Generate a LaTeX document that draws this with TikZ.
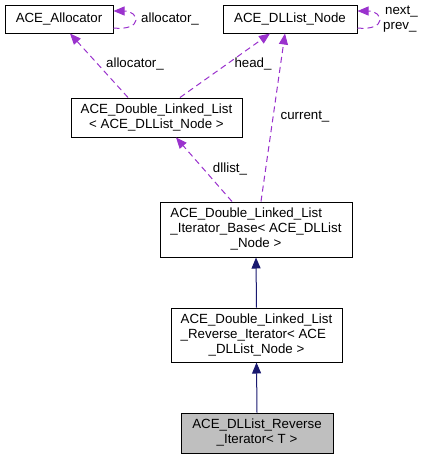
\documentclass[tikz,border=0pt]{standalone}
\usepackage{fontspec}
\setmainfont{Liberation Sans}
\usetikzlibrary{arrows.meta}
\definecolor{edgepurple}{HTML}{9A32CD}
\definecolor{edgenavy}{HTML}{191970}
\definecolor{boxgray}{HTML}{BFBFBF}
\newcommand{\mlines}[2]{\begin{tabular}{@{}l@{}}#1\\\multicolumn{1}{@{}c@{}}{#2}\end{tabular}}
\newcommand{\mlinesiii}[3]{\begin{tabular}{@{}l@{}}#1\\#2\\\multicolumn{1}{@{}c@{}}{#3}\end{tabular}}
\tikzset{
  cls/.style={draw=black, line width=1pt, fill=white, inner sep=0pt, rectangle,
    font=\fontsize{13.3}{15}\selectfont},
  usage/.style={draw=edgepurple, line width=1pt, dash pattern=on 6pt off 4pt,
    -{Triangle[length=11pt,width=9pt]}},
  inherit/.style={draw=edgenavy, line width=1pt,
    -{Triangle[length=11pt,width=9pt]}},
  lbl/.style={inner sep=0pt, font=\fontsize{13.3}{15}\selectfont}
}
\begin{document}
\begin{tikzpicture}[x=1pt,y=-1pt]
\useasboundingbox (0,0) rectangle (423,459);
\node[cls, minimum width=108pt, minimum height=28pt] (alloc) at (59,19) {ACE\_Allocator};
\node[cls, minimum width=134pt, minimum height=28pt] (dlnode) at (290,19) {ACE\_DLList\_Node};
\node[cls, minimum width=171pt, minimum height=39pt] (dll) at (156.5,117.5)
  {\mlines{ACE\_Double\_Linked\_List}{< ACE\_DLList\_Node >}};
\node[cls, minimum width=192pt, minimum height=55pt] (base) at (256,229.5)
  {\mlinesiii{ACE\_Double\_Linked\_List}{\_Iterator\_Base< ACE\_DLList}{\_Node >}};
\node[cls, minimum width=171pt, minimum height=54pt] (rev) at (256.5,335)
  {\mlinesiii{ACE\_Double\_Linked\_List}{\_Reverse\_Iterator< ACE}{\_DLList\_Node >}};
\node[cls, fill=boxgray, minimum width=152pt, minimum height=40pt] (bottom) at (257,433)
  {\mlines{ACE\_DLList\_Reverse}{\_Iterator< T >}};

% self loops
\draw[usage] ([yshift=-9pt]alloc.east) .. controls ([shift={(30pt,-12pt)}]alloc.east) and ([shift={(26pt,8pt)}]alloc.east) .. ([yshift=8pt]alloc.east);
\node[lbl, anchor=west] (lalloc) at (141,19) {allocator\_};
\draw[usage] ([yshift=-9pt]dlnode.east) .. controls ([shift={(30pt,-12pt)}]dlnode.east) and ([shift={(26pt,8pt)}]dlnode.east) .. ([yshift=8pt]dlnode.east);
\node[lbl, anchor=west] (lnext) at (385,12) {next\_};
\node[lbl, anchor=west] (lprev) at (383,27) {prev\_};

% usage edges
\draw[usage] ([xshift=-28.5pt]dll.north) -- ([xshift=11pt]alloc.south);
\node[lbl] (lalloc2) at (135,64) {allocator\_};
\draw[usage] ([xshift=23.5pt]dll.north) -- ([xshift=-20pt]dlnode.south);
\node[lbl] (lhead) at (253,64) {head\_};
\draw[usage] ([xshift=5pt]base.north) -- ([xshift=-5pt]dlnode.south);
\node[lbl] (lcur) at (305,117) {current\_};
\draw[usage] ([xshift=-24pt]base.north) -- ([xshift=19.5pt]dll.south);
\node[lbl] (ldll) at (230,169) {dllist\_};

% inheritance
\draw[inherit] (rev.north) -- (base.south);
\draw[inherit] (bottom.north) -- (rev.south);
\end{tikzpicture}
\end{document}
